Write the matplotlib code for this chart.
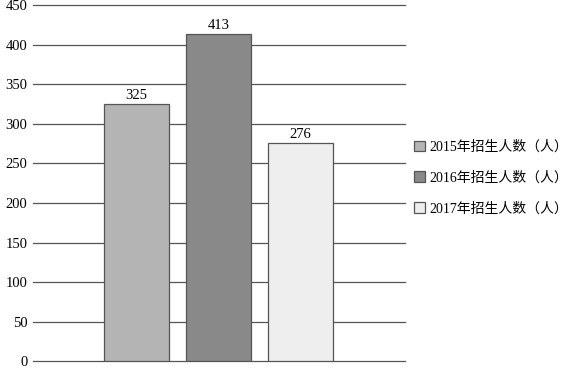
import numpy as np
import matplotlib.pyplot as plt

plt.rcParams['font.family'] = ['Liberation Serif', 'Noto Sans CJK SC']

labels = ['2015年招生人数（人）', '2016年招生人数（人）', '2017年招生人数（人）']
values = [325, 413, 276]
colors = ['#b4b4b4', '#898989', '#eeeeee']

fig = plt.figure(figsize=(5.68, 3.68), dpi=100)
ax = fig.add_axes([0.058, 0.018, 0.655, 0.968])

x = np.arange(len(values))
rects = ax.bar(x, values, width=0.79, color=colors, edgecolor='#555555',
               linewidth=0.9, label=labels, zorder=3)
for rect in rects:
    h = rect.get_height()
    ax.text(rect.get_x() + rect.get_width() / 2, h + 3, str(h),
            ha='center', va='bottom', fontsize=10.5)

ax.set_ylim(0, 450)
ax.set_xlim(-1.262, 3.274)
ax.set_yticks(np.arange(0, 451, 50))
ax.set_xticks([])
ax.yaxis.grid(True, color='#555555', linewidth=0.9)
for gl in ax.get_ygridlines():
    gl.set_clip_on(False)
ax.tick_params(axis='y', length=0, labelsize=10.5, pad=4)
for s in ax.spines.values():
    s.set_visible(False)

ax.legend(handles=rects, labels=labels, loc='center left',
          bbox_to_anchor=(0.99, 0.515), frameon=False, fontsize=10,
          handlelength=0.8, handleheight=0.8, handletextpad=0.3,
          labelspacing=1.25)

fig.savefig('out.png', dpi=100)
